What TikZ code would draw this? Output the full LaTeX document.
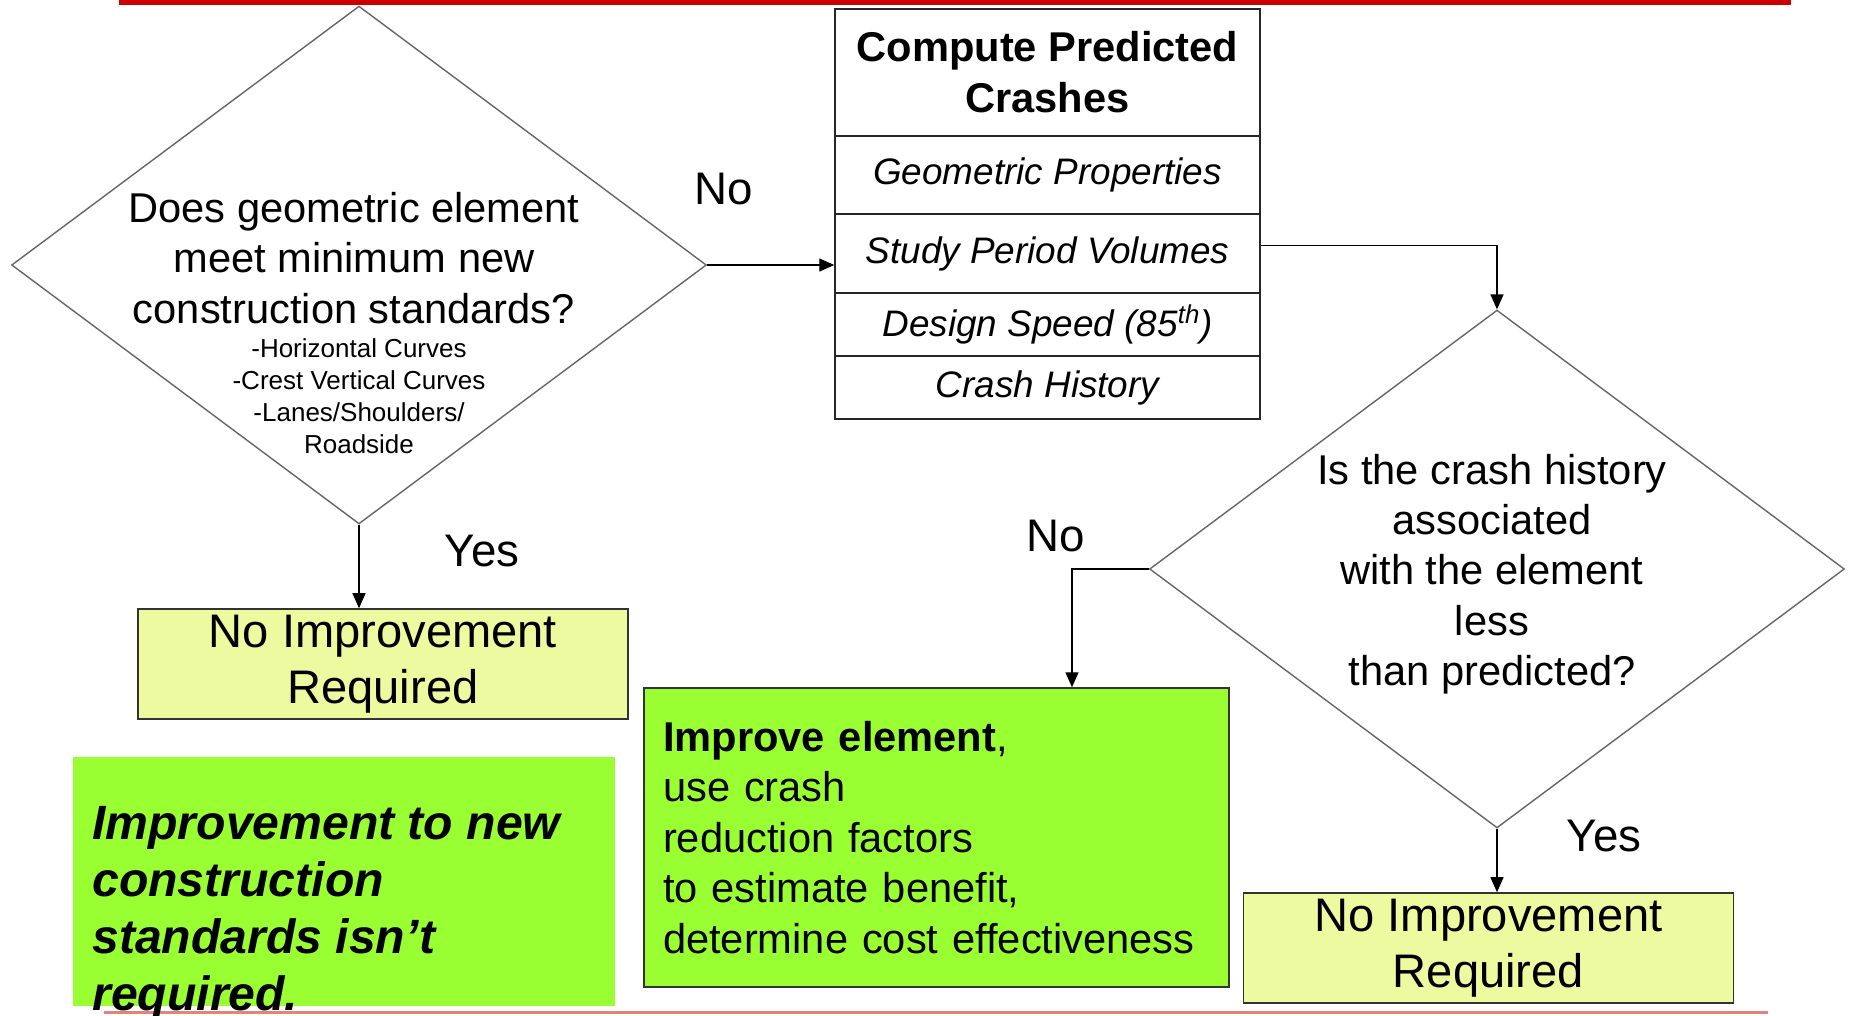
\documentclass[tikz,border=0pt]{standalone}
\usepackage{fontspec}
\setmainfont{Liberation Sans}
\usetikzlibrary{shapes.geometric,arrows.meta}
\definecolor{limegreen}{HTML}{99FF33}
\definecolor{paleyellow}{HTML}{EEFAA0}
\definecolor{topred}{HTML}{CC0000}
\definecolor{rulepink}{HTML}{E88080}

\begin{document}
\begin{tikzpicture}[x=0.02cm,y=-0.02cm]
\tikzstyle{every node} = [inner sep=0pt]
\tikzstyle{decision} = [draw=black!60, line width=0.8pt, shape=diamond, minimum width=13.9cm, minimum height=10.36cm]
\tikzstyle{field} = [draw=black!85, line width=0.9pt, minimum width=8.5cm, align=center, font=\itshape\fontsize{21}{25}\selectfont]
\tikzstyle{outcome} = [draw=black!80, line width=0.9pt, fill=paleyellow, minimum width=9.8cm, minimum height=2.2cm, align=center, font=\fontsize{26.8}{31.9}\selectfont]
\tikzstyle{answer} = [font=\fontsize{26}{30}\selectfont]
\tikzstyle{body} = [align=center, font=\fontsize{23.7}{28.6}\selectfont]
\tikzstyle{link} = [-{Triangle[length=0.3cm,width=0.26cm]}, line width=0.8pt]

\useasboundingbox (0,0) rectangle (1854,1015);

% red rules
\fill [topred] (119,0) rectangle (1791,5);
\fill [rulepink] (104,1011) rectangle (1768,1014);

% first question
\node [decision] (q1) at (359,265) {};
\node [body] (q1t) at (354,258) {Does geometric element\\meet minimum new\\construction standards?};
\node [align=center, font=\fontsize{14.8}{18.1}\selectfont] (q1s) at (359,396) {-Horizontal Curves\\-Crest Vertical Curves\\-Lanes/Shoulders/\\Roadside};

% prediction inputs
\node [field, minimum height=2.54cm, font=\bfseries\fontsize{23.7}{29}\selectfont] (pred) at (1047.5,72.5) {Compute Predicted\\Crashes};
\node [field, minimum height=1.56cm] (geo) at (1047.5,175) {Geometric Properties};
\node [field, minimum height=1.58cm] (vol) at (1047.5,253.5) {Study Period Volumes};
\node [field, minimum height=1.26cm] (spd) at (1047.5,324.5) {Design Speed (85\textsuperscript{th})};
\node [field, minimum height=1.26cm] (hist) at (1047.5,387.5) {Crash History};

% second question
\node [decision] (q2) at (1497,569) {};
\node [body] (q2t) at (1492,574) {Is the crash history\\associated\\with the element\\less\\than predicted?};

% outcomes
\node [outcome] (ni1) at (383,664) {No Improvement\\Required};
\node [outcome] (ni2) at (1488.5,948) {No Improvement\\Required};
\node [draw=black!80, line width=0.9pt, fill=limegreen, minimum height=5.98cm, text width=10.94cm, inner xsep=0.38cm, align=left, font=\fontsize{23.7}{28.7}\selectfont] (imp) at (936.5,837.5) {\textbf{Improve element},\\use crash\\reduction factors\\to estimate benefit,\\determine cost effectiveness};
\node [fill=limegreen, minimum width=10.84cm, minimum height=4.98cm] (nrbox) at (344,881.5) {};
\node [anchor=north west, align=left, font=\bfseries\itshape\fontsize{27.4}{32.4}\selectfont] (nreq) at (92,806) {Improvement to new\\construction\\standards isn’t\\required.};

% answers
\node [answer] (no1) at (724,189) {No};
\node [answer] (yes1) at (482,551) {Yes};
\node [answer] (no2) at (1056,536) {No};
\node [answer] (yes2) at (1604,836) {Yes};

\draw [link] (q1.east) -- (q1.east -| vol.west);
\draw [link] ([yshift=0.16cm]vol.east) -| (q2.north);
\draw [link] (q2.west) -| ([xshift=2.71cm]imp.north);
\draw [link] (q1.south) -- (q1.south |- ni1.north);
\draw [link] (q2.south) -- (q2.south |- ni2.north);
\end{tikzpicture}
\end{document}
